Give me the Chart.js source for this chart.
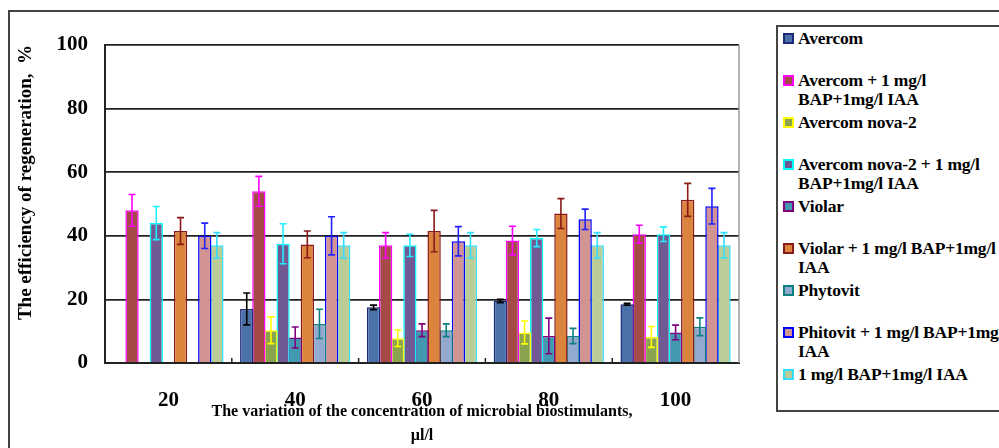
<!DOCTYPE html>
<html lang="en">
<head>
<meta charset="UTF-8">
<title>Efficiency of regeneration</title>
<script src="https://cdn.jsdelivr.net/npm/chart.js"></script>
<style>
    body { margin: 0; background: #fff; }
    .wrap { position: relative; width: 999px; height: 448px; overflow: hidden; }
    #frame {
        position: absolute; left: 8px; top: 10px; width: 1100px; height: 600px;
        border: 2px solid #444;
    }
    #chart { position: absolute; left: 0; top: 0; }
    #legend {
        position: absolute; left: 776px; top: 25px; width: 300px; height: 383px;
        border: 2px solid #444; background: #fff;
        font-family: "Liberation Serif", serif; font-weight: bold; font-size: 17.5px;
        color: #000;
    }
    .item { position: absolute; left: 5px; white-space: pre; line-height: 19px; }
    .mark {
        position: absolute; left: 0; top: 4px; width: 7px; height: 7px;
        border: 2px solid #000;
    }
    .txt { position: absolute; left: 15px; top: 0; letter-spacing: -0.2px; }
</style>
</head>
<body>
<div class="wrap">
    <div id="frame"></div>
    <canvas id="chart" width="999" height="448"></canvas>
    <div id="legend"></div>
</div>
<script>
    const categories = ['20', '40', '60', '80', '100'];
    const yTicks = [0, 20, 40, 60, 80, 100];

    const seriesNames = [
        'Avercom',
        'Avercom + 1 mg/l\nBAP+1mg/l IAA',
        'Avercom nova-2',
        'Avercom nova-2 + 1 mg/l\nBAP+1mg/l IAA',
        'Violar',
        'Violar + 1 mg/l BAP+1mg/l\nIAA',
        'Phytovit',
        'Phitovit + 1 mg/l BAP+1mg/l\nIAA',
        '1 mg/l BAP+1mg/l IAA'
    ];

    // values per series (null = no bar)
    const avercom     = [null, 17, 17.5, 19.5, 18.5];
    const avercomBap  = [48, 54, 37, 38.5, 40.5];
    const nova2       = [null, 10.3, 7.8, 9.6, 8.2];
    const nova2Bap    = [44, 37.5, 37, 39.3, 40.5];
    const violar      = [null, 8, 10.3, 8.5, 9.6];
    const violarBap   = [41.5, 37.3, 41.5, 47, 51.3];
    const phytovit    = [null, 12.3, 10.3, 8.5, 11.4];
    const phitovitBap = [40, 40, 38.3, 45.2, 49.3];
    const bapIaa      = [37, 37, 37, 37, 37];

    // error bar half-lengths
    const avercomErr     = [null, 5, 0.7, 0.5, 0.3];
    const avercomBapErr  = [5, 4.7, 4, 4.5, 2.8];
    const nova2Err       = [null, 4.2, 2.6, 3.6, 3.3];
    const nova2BapErr    = [5.2, 6.3, 3.5, 2.7, 2.3];
    const violarErr      = [null, 3.3, 2, 5.6, 2.3];
    const violarBapErr   = [4.2, 4.2, 6.5, 4.7, 5.2];
    const phytovitErr    = [null, 4.6, 2, 2.4, 2.8];
    const phitovitBapErr = [4, 6, 4.6, 3.2, 5.6];
    const bapIaaErr      = [4, 4, 4, 4, 4];

    const values = [avercom, avercomBap, nova2, nova2Bap, violar, violarBap, phytovit, phitovitBap, bapIaa];
    const errors = [avercomErr, avercomBapErr, nova2Err, nova2BapErr, violarErr, violarBapErr, phytovitErr, phitovitBapErr, bapIaaErr];

    const fills   = ['#4A71A8', '#A64A48', '#8AA34E', '#715A93', '#4298AE', '#DB843D', '#94A9D0', '#D29393', '#BACD97'];
    const borders = ['#1b2a7a', '#ff00ff', '#ffff00', '#00ffff', '#800080', '#8b1a1a', '#0e8080', '#0000ff', '#33ddff'];
    const errCols = ['#000000', '#ff00ff', '#ffff00', '#22eeff', '#800080', '#8b1a1a', '#0e8080', '#2222ff', '#33ddff'];

    const serif = "'Liberation Serif', 'Times New Roman', serif";

    // error bars drawn with the chart's own scales
    const errorBars = {
        id: 'errorBars',
        afterDatasetsDraw(chart) {
            const ctx = chart.ctx;
            const y = chart.scales.y;
            chart.data.datasets.forEach((ds, i) => {
                const meta = chart.getDatasetMeta(i);
                meta.data.forEach((bar, j) => {
                    const v = ds.data[j], e = errors[i][j];
                    if (v == null || e == null) return;
                    const top = y.getPixelForValue(v + e);
                    const bot = y.getPixelForValue(v - e);
                    ctx.save();
                    ctx.strokeStyle = errCols[i];
                    ctx.lineWidth = 1.6;
                    ctx.beginPath();
                    ctx.moveTo(bar.x, top); ctx.lineTo(bar.x, bot);
                    ctx.moveTo(bar.x - 3.5, top); ctx.lineTo(bar.x + 3.5, top);
                    ctx.moveTo(bar.x - 3.5, bot); ctx.lineTo(bar.x + 3.5, bot);
                    ctx.stroke();
                    ctx.restore();
                });
            });
        }
    };

    // grey right edge of the plot area + small inward tick marks between groups
    const plotEdge = {
        id: 'plotEdge',
        afterDraw(chart) {
            const a = chart.chartArea, ctx = chart.ctx, x = chart.scales.x;
            ctx.save();
            ctx.strokeStyle = '#999';
            ctx.lineWidth = 1.5;
            ctx.beginPath();
            ctx.moveTo(a.right, a.top); ctx.lineTo(a.right, a.bottom);
            ctx.stroke();
            ctx.strokeStyle = '#222';
            ctx.beginPath();
            for (let i = 1; i < categories.length; i++) {
                const px = (x.getPixelForValue(i - 1) + x.getPixelForValue(i)) / 2;
                ctx.moveTo(px, a.bottom); ctx.lineTo(px, a.bottom - 5);
            }
            ctx.stroke();
            ctx.restore();
        }
    };

    new Chart(document.getElementById('chart'), {
        type: 'bar',
        data: {
            labels: categories,
            datasets: values.map((d, i) => ({
                label: seriesNames[i],
                data: d,
                backgroundColor: fills[i],
                borderColor: borders[i],
                borderWidth: 1.5,
                categoryPercentage: 0.86,
                barPercentage: 1.1
            }))
        },
        options: {
            responsive: false,
            animation: false,
            devicePixelRatio: 1,
            layout: { padding: { left: 0, top: 45, right: 260, bottom: 0 } },
            plugins: {
                legend: { display: false },
                tooltip: { enabled: false }
            },
            scales: {
                x: {
                    afterFit: s => { s.height = 85; },
                    grid: { display: false },
                    border: { color: '#222', width: 2 },
                    ticks: {
                        color: '#000',
                        padding: 17,
                        font: { family: serif, size: 21, weight: 'bold' }
                    },
                    title: {
                        display: true,
                        text: ['The variation of the concentration of microbial biostimulants,', 'µl/l'],
                        color: '#000',
                        font: { family: serif, size: 16, weight: 'bold', lineHeight: 1.5 },
                        padding: { top: 0, bottom: 0 }
                    }
                },
                y: {
                    min: 0,
                    max: 100,
                    afterFit: s => { s.width = 105; },
                    afterBuildTicks: s => { s.ticks = yTicks.map(v => ({ value: v })); },
                    grid: { color: '#222', lineWidth: 1.8, drawTicks: false },
                    border: { color: '#222', width: 2 },
                    ticks: {
                        color: '#000',
                        padding: 17,
                        font: { family: serif, size: 21, weight: 'bold' }
                    },
                    title: {
                        display: true,
                        align: 'end',
                        text: 'The efficiency of regeneration,  %',
                        color: '#000',
                        font: { family: serif, size: 19, weight: 'bold' },
                        padding: { top: 15, bottom: 0 }
                    }
                }
            }
        },
        plugins: [errorBars, plotEdge]
    });

    // legend on the right
    const legend = document.getElementById('legend');
    seriesNames.forEach((name, i) => {
        const item = document.createElement('div');
        item.className = 'item';
        item.style.top = (2 + i * 42) + 'px';
        const mark = document.createElement('span');
        mark.className = 'mark';
        mark.style.background = fills[i];
        mark.style.borderColor = borders[i];
        const txt = document.createElement('span');
        txt.className = 'txt';
        txt.textContent = name;
        item.appendChild(mark);
        item.appendChild(txt);
        legend.appendChild(item);
    });
</script>
</body>
</html>
